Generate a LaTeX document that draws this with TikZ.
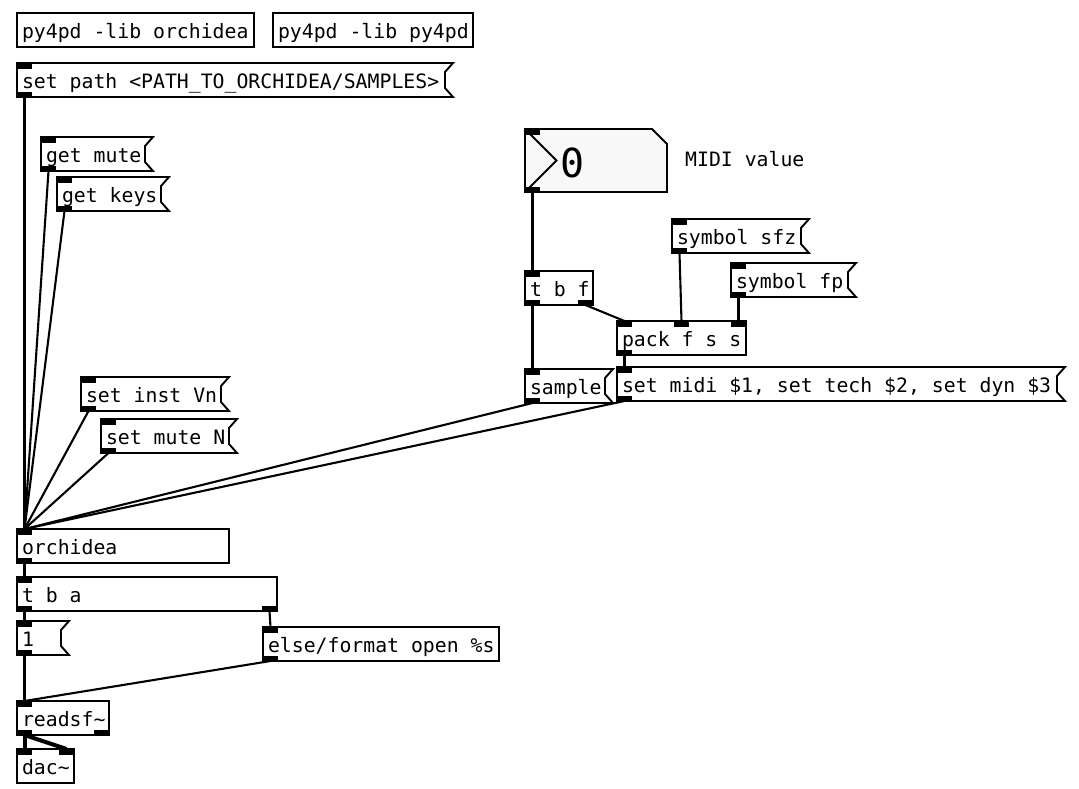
\documentclass[tikz,border=0pt]{standalone}
\usepackage{fontspec}
\setmainfont{DejaVu Sans Mono}
\frenchspacing
\definecolor{numfill}{RGB}{248,248,248}
\newcommand\pdt[2]{\makebox[#1pt][l]{#2}}
\newcommand\pdflag[1]{\draw[boxline] (#1.north west) -- ([xshift=8pt]#1.north east) -- ([yshift=-9pt]#1.north east) -- ([yshift=9pt]#1.south east) -- ([xshift=8pt]#1.south east) -- (#1.south west) -- cycle;}
\newcommand\pdinl[1]{\node[tab,anchor=north west] (#1-i0) at (#1.north west) {};}
\newcommand\pdoutl[1]{\node[tab,anchor=south west] (#1-o0) at (#1.south west) {};}
\newcommand\pdinr[2]{\node[tab,anchor=north east] (#1-#2) at (#1.north east) {};}
\newcommand\pdoutr[2]{\node[tab,anchor=south east] (#1-#2) at (#1.south east) {};}
\begin{document}
\begin{tikzpicture}[x=1pt,y=-1pt,
  font=\fontsize{19.8pt}{24pt}\selectfont,
  boxline/.style={line width=1.9pt, line join=miter},
  obj/.style={draw, line width=1.9pt, outer sep=0pt, anchor=north west, inner xsep=5pt, inner ysep=0pt,
     minimum height=34pt, text height=16pt, text depth=0pt},
  msg/.style={obj, draw=none},
  tab/.style={fill=black, draw=none, inner sep=0pt, outer sep=0pt, minimum width=15pt, minimum height=5.5pt},
  conn/.style={line width=2.1pt},
  sig/.style={line width=4pt},
  cmt/.style={anchor=base west, inner sep=0pt}]
\useasboundingbox (0,0) rectangle (1079,788);

% boxes
\node[obj] (lib1) at (17,13) {\pdt{227}{py4pd -lib orchidea}};
\node[obj] (lib2) at (273,13) {\pdt{190}{py4pd -lib py4pd}};

\node[msg] (setpath) at (17,63) {\pdt{418}{set path <PATH\_TO\_ORCHIDEA/SAMPLES>}};
\pdflag{setpath}\pdinl{setpath}\pdoutl{setpath}

\node[msg] (getmute) at (41,137) {\pdt{94}{get mute}};
\pdflag{getmute}\pdinl{getmute}\pdoutl{getmute}
\node[msg] (getkeys) at (57,177) {\pdt{94}{get keys}};
\pdflag{getkeys}\pdinl{getkeys}\pdoutl{getkeys}

% number box
\node[anchor=north west, minimum width=142pt, minimum height=63pt, inner sep=0pt, outer sep=0pt] (num) at (525,129) {};
\draw[boxline, fill=numfill] (num.north west) -- ([xshift=-15pt]num.north east) -- ([yshift=-15pt]num.north east) -- (num.south east) -- (num.south west) -- cycle;
\draw[boxline] (num.north west) -- ([xshift=31.5pt]num.west) -- (num.south west);
\pdinl{num}\pdoutl{num}
\node[anchor=base west, inner sep=0pt, font=\fontsize{40pt}{48pt}\selectfont] (numval) at (560,177) {0};
\node[cmt] (midicmt) at (685,166) {MIDI value};

\node[msg] (symsfz) at (672,219) {\pdt{119}{symbol sfz}};
\pdflag{symsfz}\pdinl{symsfz}\pdoutl{symsfz}
\node[msg] (symfp) at (731,263) {\pdt{107}{symbol fp}};
\pdflag{symfp}\pdinl{symfp}\pdoutl{symfp}

\node[obj] (tbf) at (525,271) {\pdt{58}{t b f}};
\pdinl{tbf}\pdoutl{tbf}\pdoutr{tbf}{o1}

\node[obj] (pack) at (617,321) {\pdt{119}{pack f s s}};
\pdinl{pack}\pdoutl{pack}\pdinr{pack}{i2}
\node[tab,anchor=north west] (pack-i1) at ([xshift=57pt]pack.north west) {};

\node[msg] (sample) at (525,369) {\pdt{70}{sample}};
\pdflag{sample}\pdinl{sample}\pdoutl{sample}
\node[msg] (setmidi) at (617,367) {\pdt{430}{set midi \$1, set tech \$2, set dyn \$3}};
\pdflag{setmidi}\pdinl{setmidi}\pdoutl{setmidi}

\node[msg] (setinst) at (81,377) {\pdt{130}{set inst Vn}};
\pdflag{setinst}\pdinl{setinst}\pdoutl{setinst}
\node[msg] (setmute) at (101,419) {\pdt{118}{set mute N}};
\pdflag{setmute}\pdinl{setmute}\pdoutl{setmute}

\node[obj] (orch) at (17,529) {\pdt{202}{orchidea}};
\pdinl{orch}\pdoutl{orch}

\node[obj] (tba) at (17,577) {\pdt{250}{t b a}};
\pdinl{tba}\pdoutl{tba}\pdoutr{tba}{o1}

\node[msg] (one) at (17,621) {\pdt{34}{1}};
\pdflag{one}\pdinl{one}\pdoutl{one}

\node[obj] (fmt) at (263,627) {\pdt{226}{else/format open \%s}};
\pdinl{fmt}\pdoutl{fmt}

\node[obj] (readsf) at (17,701) {\pdt{82}{readsf\textasciitilde}};
\pdinl{readsf}\pdoutl{readsf}\pdoutr{readsf}{o1}

\node[obj] (dac) at (17,749) {\pdt{47}{dac\textasciitilde}};
\pdinl{dac}\pdinr{dac}{i1}

% connections
\draw[conn] (setpath-o0.south) -- (orch-i0.north);
\draw[conn] (getmute-o0.south) -- (orch-i0.north);
\draw[conn] (getkeys-o0.south) -- (orch-i0.north);
\draw[conn] (setinst-o0.south) -- (orch-i0.north);
\draw[conn] (setmute-o0.south) -- (orch-i0.north);
\draw[conn] (sample-o0.south) -- (orch-i0.north);
\draw[conn] (setmidi-o0.south) -- (orch-i0.north);
\draw[conn] (num-o0.south) -- (tbf-i0.north);
\draw[conn] (tbf-o0.south) -- (sample-i0.north);
\draw[conn] (tbf-o1.south) -- (pack-i0.north);
\draw[conn] (symsfz-o0.south) -- (pack-i1.north);
\draw[conn] (symfp-o0.south) -- (pack-i2.north);
\draw[conn] (pack-o0.south) -- (setmidi-i0.north);
\draw[conn] (orch-o0.south) -- (tba-i0.north);
\draw[conn] (tba-o0.south) -- (one-i0.north);
\draw[conn] (tba-o1.south) -- (fmt-i0.north);
\draw[conn] (one-o0.south) -- (readsf-i0.north);
\draw[conn] (fmt-o0.south) -- (readsf-i0.north);
\draw[sig] (readsf-o0.south) -- (dac-i0.north);
\draw[sig] (readsf-o0.south) -- (dac-i1.north);
\end{tikzpicture}
\end{document}
